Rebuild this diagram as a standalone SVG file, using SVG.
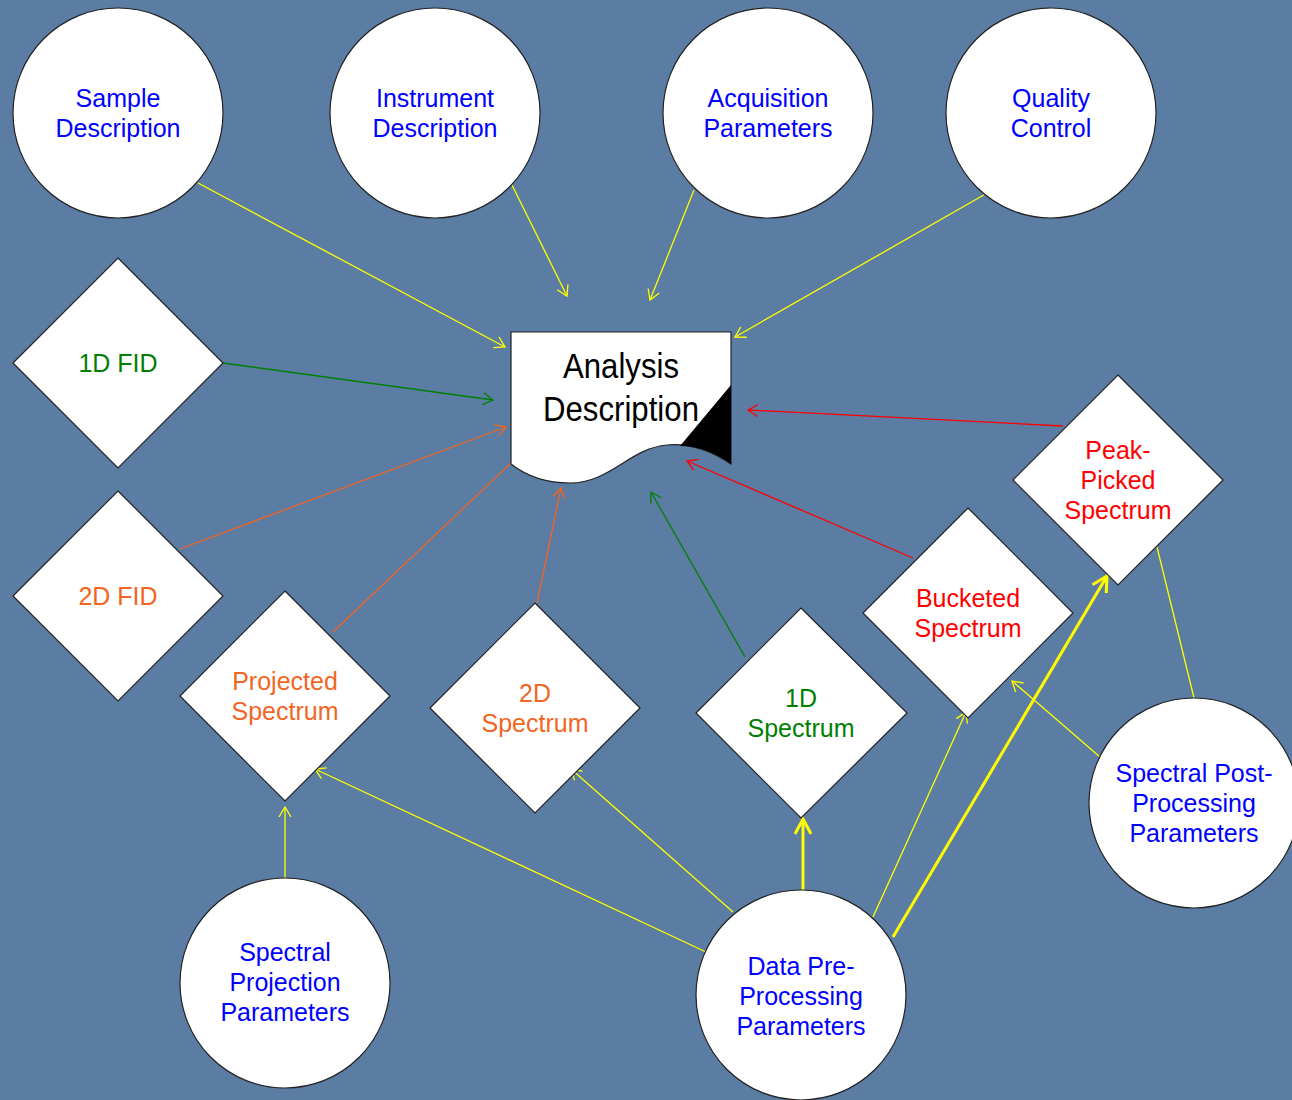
<svg xmlns="http://www.w3.org/2000/svg" width="1292" height="1100" viewBox="0 0 1292 1100">
<defs>
<marker id="ay" markerUnits="userSpaceOnUse" markerWidth="24" markerHeight="24" refX="0" refY="0" viewBox="-12 -12 24 24" orient="auto" overflow="visible"><path d="M-10,-6 L0,0 L-10,6" fill="none" stroke="#ffff00" stroke-width="1.3"/></marker>
<marker id="ayb" markerUnits="userSpaceOnUse" markerWidth="40" markerHeight="40" refX="0" refY="0" viewBox="-20 -20 40 40" orient="auto" overflow="visible"><path d="M-15,-8 L0,0 L-15,8" fill="none" stroke="#ffff00" stroke-width="3"/></marker>
<marker id="ag" markerUnits="userSpaceOnUse" markerWidth="24" markerHeight="24" refX="0" refY="0" viewBox="-12 -12 24 24" orient="auto" overflow="visible"><path d="M-10,-6 L0,0 L-10,6" fill="none" stroke="#008000" stroke-width="1.3"/></marker>
<marker id="ao" markerUnits="userSpaceOnUse" markerWidth="24" markerHeight="24" refX="0" refY="0" viewBox="-12 -12 24 24" orient="auto" overflow="visible"><path d="M-10,-6 L0,0 L-10,6" fill="none" stroke="#f26522" stroke-width="1.3"/></marker>
<marker id="ar" markerUnits="userSpaceOnUse" markerWidth="24" markerHeight="24" refX="0" refY="0" viewBox="-12 -12 24 24" orient="auto" overflow="visible"><path d="M-10,-6 L0,0 L-10,6" fill="none" stroke="#ff0000" stroke-width="1.3"/></marker>
</defs>
<style>
.n{fill:#ffffff;stroke:#222222;stroke-width:1.2}
.t{font-family:"Liberation Sans",Arial,sans-serif;font-size:25px;text-anchor:middle}
.b{fill:#0000ff}.g{fill:#008000}.o{fill:#f26522}.r{fill:#ff0000}
.c line{fill:none;stroke-width:1.3}
.y{stroke:#ffff00}.yb{stroke:#ffff00;stroke-width:3px!important}
.lg{stroke:#008000}.lo{stroke:#f26522}.lr{stroke:#ff0000}
</style>
<rect x="0" y="0" width="1292" height="1100" fill="#5b7ca3"/>
<g id="connectors" class="c">
<line class="y" x1="198" y1="183" x2="505" y2="347" marker-end="url(#ay)"/>
<line class="y" x1="512" y1="185" x2="567" y2="296" marker-end="url(#ay)"/>
<line class="y" x1="694" y1="190" x2="650" y2="300" marker-end="url(#ay)"/>
<line class="y" x1="989" y1="192" x2="735" y2="337" marker-end="url(#ay)"/>
<line class="lg" x1="223" y1="363" x2="493" y2="400" marker-end="url(#ag)"/>
<line class="lg" x1="745" y1="657" x2="651" y2="492" marker-end="url(#ag)"/>
<line class="lo" x1="180" y1="549" x2="506" y2="427" marker-end="url(#ao)"/>
<line class="lo" x1="333" y1="632" x2="511" y2="463"/>
<line class="lo" x1="537" y1="603" x2="561" y2="488" marker-end="url(#ao)"/>
<line class="lr" x1="1063" y1="426" x2="748" y2="410" marker-end="url(#ar)"/>
<line class="lr" x1="913" y1="558" x2="687" y2="461" marker-end="url(#ar)"/>
<line class="y" x1="285" y1="878" x2="285" y2="807" marker-end="url(#ay)"/>
<line class="y" x1="706" y1="952" x2="315" y2="769" marker-end="url(#ay)"/>
<line class="y" x1="733" y1="912" x2="571" y2="769" marker-end="url(#ay)"/>
<line class="yb" x1="803" y1="895" x2="803" y2="819" marker-end="url(#ayb)"/>
<line class="y" x1="873" y1="917" x2="966" y2="712" marker-end="url(#ay)"/>
<line class="yb" x1="893" y1="937" x2="1107" y2="576" marker-end="url(#ayb)"/>
<line class="y" x1="1100" y1="757" x2="1012" y2="681" marker-end="url(#ay)"/>
<line class="y" x1="1194" y1="698" x2="1157" y2="547"/>
</g>
<g id="analysis-description">
<path class="n" d="M511,332 H731 V464 C710,450 690,443 667,445 C630,448 610,483 570,483 C545,483 525,475 511,464 Z"/>
<path d="M731,385 L680,446 C700,446 715,453 731,464 Z" fill="#000000"/>
<text font-family="'Liberation Sans',Arial,sans-serif" font-size="35" text-anchor="middle" fill="#000" x="621" y="378" textLength="116" lengthAdjust="spacingAndGlyphs">Analysis</text>
<text font-family="'Liberation Sans',Arial,sans-serif" font-size="35" text-anchor="middle" fill="#000" x="621" y="421" textLength="156" lengthAdjust="spacingAndGlyphs">Description</text>
</g>
<g id="sample-description"><circle class="n" cx="118" cy="113" r="105"/><text class="t b" x="118" y="107">Sample</text><text class="t b" x="118" y="137">Description</text></g>
<g id="instrument-description"><circle class="n" cx="435" cy="113" r="105"/><text class="t b" x="435" y="107">Instrument</text><text class="t b" x="435" y="137">Description</text></g>
<g id="acquisition-parameters"><circle class="n" cx="768" cy="113" r="105"/><text class="t b" x="768" y="107">Acquisition</text><text class="t b" x="768" y="137">Parameters</text></g>
<g id="quality-control"><circle class="n" cx="1051" cy="113" r="105"/><text class="t b" x="1051" y="107">Quality</text><text class="t b" x="1051" y="137">Control</text></g>
<g id="fid-1d"><path class="n" d="M118,258 L223,363 L118,468 L13,363 Z"/><text class="t g" x="118" y="372">1D FID</text></g>
<g id="fid-2d"><path class="n" d="M118,491 L223,596 L118,701 L13,596 Z"/><text class="t o" x="118" y="605">2D FID</text></g>
<g id="projected-spectrum"><path class="n" d="M285,591 L390,696 L285,801 L180,696 Z"/><text class="t o" x="285" y="690">Projected</text><text class="t o" x="285" y="720">Spectrum</text></g>
<g id="spectrum-2d"><path class="n" d="M535,603 L640,708 L535,813 L430,708 Z"/><text class="t o" x="535" y="702">2D</text><text class="t o" x="535" y="732">Spectrum</text></g>
<g id="spectrum-1d"><path class="n" d="M801,608 L907,713 L801,818 L696,713 Z"/><text class="t g" x="801" y="707">1D</text><text class="t g" x="801" y="737">Spectrum</text></g>
<g id="bucketed-spectrum"><path class="n" d="M968,508 L1073,613 L968,718 L863,613 Z"/><text class="t r" x="968" y="607">Bucketed</text><text class="t r" x="968" y="637">Spectrum</text></g>
<g id="peak-picked-spectrum"><path class="n" d="M1118,375 L1223,480 L1118,585 L1013,480 Z"/><text class="t r" x="1118" y="459">Peak-</text><text class="t r" x="1118" y="489">Picked</text><text class="t r" x="1118" y="519">Spectrum</text></g>
<g id="spectral-projection-parameters"><circle class="n" cx="285" cy="983" r="105"/><text class="t b" x="285" y="961">Spectral</text><text class="t b" x="285" y="991">Projection</text><text class="t b" x="285" y="1021">Parameters</text></g>
<g id="data-preprocessing-parameters"><circle class="n" cx="801" cy="995" r="105"/><text class="t b" x="801" y="975">Data Pre-</text><text class="t b" x="801" y="1005">Processing</text><text class="t b" x="801" y="1035">Parameters</text></g>
<g id="spectral-postprocessing-parameters"><circle class="n" cx="1194" cy="803" r="105"/><text class="t b" x="1194" y="782">Spectral Post-</text><text class="t b" x="1194" y="812">Processing</text><text class="t b" x="1194" y="842">Parameters</text></g>
</svg>
